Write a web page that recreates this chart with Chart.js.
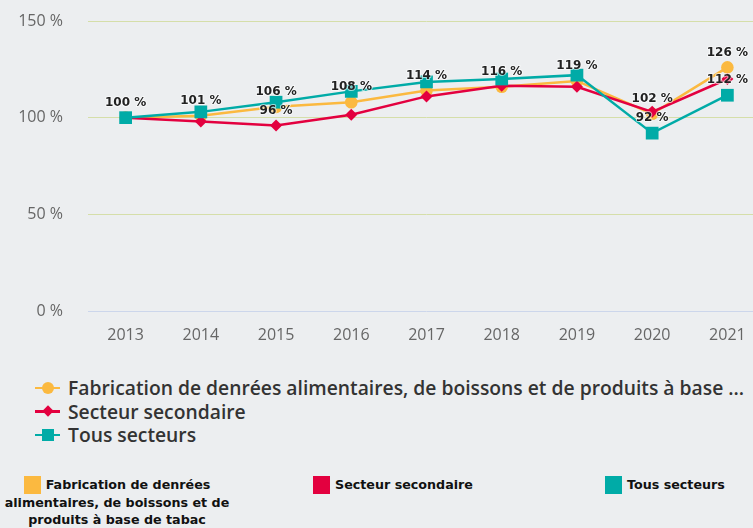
<!DOCTYPE html>
<html lang="fr">
<head>
<meta charset="utf-8">
<script src="https://cdn.jsdelivr.net/npm/chart.js@4/dist/chart.umd.min.js"></script>
<style>
  html, body { margin: 0; padding: 0; background: #eceef0; overflow: hidden; }
  #wrap { position: relative; width: 753px; height: 528px; overflow: hidden; }
  #chart { position: absolute; left: 0; top: 0; }
  #legend1 { position: absolute; left: 35px; top: 376px; font-family: "Open Sans", sans-serif; font-weight: 600; font-size: 19.3px; color: #333; }
  .l1item { height: 23.5px; line-height: 23.5px; white-space: nowrap; display: flex; align-items: center; }
  .sym { position: relative; width: 25px; height: 12px; margin-right: 8px; flex: none; }
  .sym .line { position: absolute; left: 0; right: 0; top: 5px; height: 2.5px; }
  .sym .mk { position: absolute; }
  #legend2 { position: absolute; left: 0; top: 476px; width: 753px; font-family: "DejaVu Sans", sans-serif; font-weight: bold; font-size: 12.7px; color: #111; }
  .l2item { position: absolute; top: 0; text-align: center; line-height: 17px; }
  .sq { display: inline-block; width: 17px; height: 18px; vertical-align: -5px; margin-right: 5px; }
</style>
</head>
<body>
<div id="wrap">
  <canvas id="chart" width="774" height="350"></canvas>
  <div id="legend1"></div>
  <div id="legend2"></div>
</div>
<script>
const years = ["2013", "2014", "2015", "2016", "2017", "2018", "2019", "2020", "2021"];
const fabrication = [100, 101, 105.6, 108, 114, 116, 119, 102, 126];
const secondaire = [100, 98, 96, 101.5, 111, 116.5, 116, 103, 120];
const tousSecteurs = [100, 103, 108, 113.6, 118.5, 120, 122, 92, 111.6];
const seriesNames = [
  "Fabrication de denrées alimentaires, de boissons et de produits à base de tabac",
  "Secteur secondaire",
  "Tous secteurs"
];
const colors = ["#fbb940", "#e3003f", "#00aba7"];
const yTicks = [0, 50, 100, 150];
// which value labels are visible: [series, year index]
const shownLabels = [[0, 0], [0, 1], [0, 2], [1, 2], [0, 3], [0, 4], [0, 5], [0, 6], [0, 7], [2, 7], [0, 8], [2, 8]];

document.addEventListener("DOMContentLoaded", function () {
  const pct = v => Math.round(v) + " %";

  const valueLabels = {
    id: "valueLabels",
    afterDatasetsDraw(chart) {
      const ctx = chart.ctx;
      ctx.save();
      ctx.font = "bold 12px 'DejaVu Sans'";
      ctx.textAlign = "center";
      ctx.textBaseline = "middle";
      ctx.lineJoin = "round";
      shownLabels.forEach(([d, i]) => {
        const pt = chart.getDatasetMeta(d).data[i];
        const txt = pct(chart.data.datasets[d].data[i]);
        ctx.lineWidth = 2;
        ctx.strokeStyle = "rgba(255,255,255,0.6)";
        ctx.strokeText(txt, pt.x, pt.y - 15);
        ctx.fillStyle = "#222";
        ctx.fillText(txt, pt.x, pt.y - 15);
      });
      ctx.restore();
    }
  };

  const series = [fabrication, secondaire, tousSecteurs];
  const styles = [
    { pointStyle: "circle", pointRadius: 6.3, order: 3 },
    { pointStyle: "rectRot", pointRadius: 6, order: 2 },
    { pointStyle: "rect", pointRadius: 9, order: 1 }
  ];

  const ctx = document.getElementById("chart").getContext("2d");
  new Chart(ctx, {
    type: "line",
    data: {
      labels: years,
      datasets: series.map((vals, k) => ({
        label: seriesNames[k],
        data: vals,
        borderColor: colors[k],
        backgroundColor: colors[k],
        borderWidth: 2.5,
        tension: 0,
        pointStyle: styles[k].pointStyle,
        pointRadius: styles[k].pointRadius,
        pointBorderWidth: 0,
        order: styles[k].order
      }))
    },
    options: {
      responsive: false,
      animation: false,
      layout: { padding: { top: 21, right: 0, bottom: 0, left: 0 } },
      plugins: {
        legend: { display: false },
        tooltip: { enabled: false }
      },
      scales: {
        x: {
          offset: true,
          grid: { display: false, drawTicks: false },
          border: { display: false },
          ticks: { color: "#666", font: { family: "Open Sans", size: 16 }, padding: 15, maxRotation: 0 },
          afterFit: s => { s.height = 39; s.paddingLeft = 0; s.paddingRight = 0; }
        },
        y: {
          min: 0,
          max: 150,
          afterBuildTicks: s => { s.ticks = yTicks.map(v => ({ value: v })); },
          grid: {
            drawTicks: false,
            color: c => (c.tick && c.tick.value === 0 ? "#ccd6eb" : "#d5dea9"),
            lineWidth: 1
          },
          border: { display: false },
          ticks: {
            color: "#666",
            font: { family: "Open Sans", size: 16 },
            padding: 25,
            callback: v => v + " %"
          },
          afterFit: s => { s.width = 88; s.paddingTop = 0; s.paddingBottom = 0; }
        }
      }
    },
    plugins: [valueLabels]
  });

  // legend 1: line + marker symbols
  const short = seriesNames[0].split(" ").slice(0, 11).join(" ") + " ...";
  const legendNames = [short, seriesNames[1], seriesNames[2]];
  const markers = [
    "width:12px;height:12px;border-radius:50%;left:6.5px;top:0px;",
    "width:8px;height:8px;transform:rotate(45deg);left:8.5px;top:2px;",
    "width:12px;height:12px;left:6.5px;top:0px;"
  ];
  const l1 = document.getElementById("legend1");
  legendNames.forEach((name, k) => {
    const it = document.createElement("div");
    it.className = "l1item";
    it.innerHTML = '<span class="sym"><span class="line" style="background:' + colors[k] + '"></span>' +
      '<span class="mk" style="' + markers[k] + 'background:' + colors[k] + '"></span></span>' +
      '<span>' + name + '</span>';
    l1.appendChild(it);
  });

  // legend 2: coloured squares
  const l2 = document.getElementById("legend2");
  const l2pos = [{ left: 0, width: 234 }, { left: 313, width: 200 }, { left: 605, width: 148 }];
  seriesNames.forEach((name, k) => {
    const it = document.createElement("div");
    it.className = "l2item";
    it.style.left = l2pos[k].left + "px";
    it.style.width = l2pos[k].width + "px";
    if (k > 0) it.style.textAlign = "left";
    it.innerHTML = '<span class="sq" style="background:' + colors[k] + '"></span>' + name;
    l2.appendChild(it);
  });
});
</script>
</body>
</html>
